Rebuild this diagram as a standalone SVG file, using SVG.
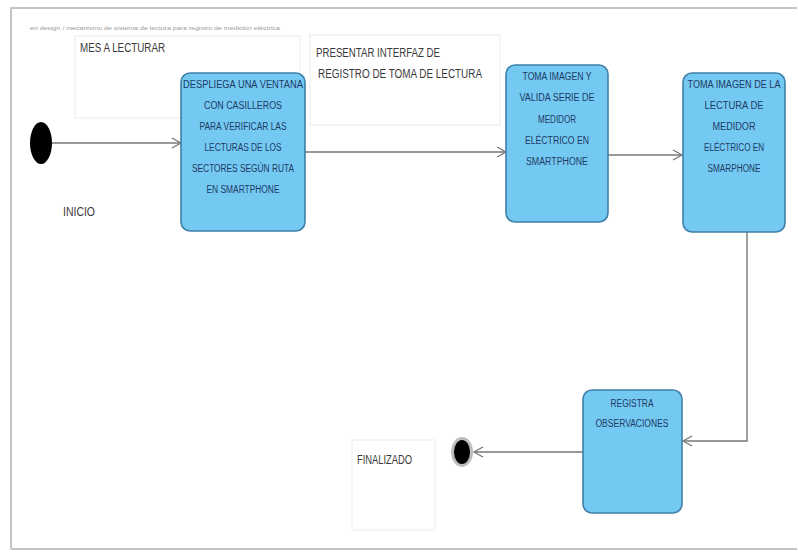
<svg xmlns="http://www.w3.org/2000/svg" width="798" height="553" viewBox="0 0 798 553">
<style>
.node rect{fill:#74c9f3;stroke:#3f7fa8;stroke-width:1.6}
.nt{font-family:"Liberation Sans",Arial,sans-serif;font-size:10px;fill:#1d3b63;text-anchor:middle}
.note{font-family:"Liberation Sans",Arial,sans-serif;font-size:12px;fill:#3a3a3a}
.nbox{fill:#fff;stroke:#ececec;stroke-width:1}
.conn path{fill:none;stroke:#777;stroke-width:1.4}
</style>
<defs>
<marker id="arr" markerWidth="12" markerHeight="12" refX="10" refY="6" orient="auto" markerUnits="userSpaceOnUse">
<path d="M1,1 L10,6 L1,11" fill="none" stroke="#777" stroke-width="1.3"/>
</marker>
</defs>
<rect x="0" y="0" width="798" height="553" fill="#fff"/>
<g id="frame" fill="none" stroke="#c4c4c4" stroke-width="2">
<path d="M11,549 L11,8 L797,8"/>
<path d="M11,549 L797,549"/>
</g>
<text x="30" y="30" font-family="Liberation Sans, Arial, sans-serif" font-size="4.5" fill="#9a9a9a" textLength="250" lengthAdjust="spacingAndGlyphs">en design / mecanismo de sistema de lectura para registro de medición eléctrica</text>
<g id="note-mes">
<rect class="nbox" x="75" y="36" width="225" height="82"/>
<text class="note" x="80" y="52" textLength="85" lengthAdjust="spacingAndGlyphs">MES A LECTURAR</text>
</g>
<g id="note-presentar">
<rect class="nbox" x="310" y="35" width="190" height="90"/>
<text class="note" x="316" y="57" textLength="124" lengthAdjust="spacingAndGlyphs">PRESENTAR INTERFAZ DE</text>
<text class="note" x="318" y="78" textLength="164" lengthAdjust="spacingAndGlyphs">REGISTRO DE TOMA DE LECTURA</text>
</g>
<g id="note-finalizado">
<rect class="nbox" x="352" y="440" width="83" height="90"/>
<text class="note" x="357" y="464" textLength="55" lengthAdjust="spacingAndGlyphs">FINALIZADO</text>
</g>
<g class="conn" id="connectors">
<path d="M52,143 L181,143" marker-end="url(#arr)"/>
<path d="M305,152 L506,152" marker-end="url(#arr)"/>
<path d="M608,155 L682,155" marker-end="url(#arr)"/>
<path d="M747,232 L747,441 L683,441" marker-end="url(#arr)"/>
<path d="M583,452 L474,452" marker-end="url(#arr)"/>
</g>
<g id="inicio">
<ellipse cx="41" cy="143" rx="11" ry="21" fill="#000"/>
<text class="note" x="63" y="216" textLength="32" lengthAdjust="spacingAndGlyphs">INICIO</text>
</g>
<g id="fin">
<ellipse cx="462" cy="452" rx="11" ry="15" fill="#bdbdbd"/>
<ellipse cx="462" cy="452" rx="8" ry="12" fill="#000"/>
</g>
<g class="node" id="despliega">
<rect x="181" y="73" width="124" height="158" rx="9"/>
<text class="nt" x="243" y="88" textLength="120" lengthAdjust="spacingAndGlyphs">DESPLIEGA UNA VENTANA</text>
<text class="nt" x="243" y="109" textLength="78" lengthAdjust="spacingAndGlyphs">CON CASILLEROS</text>
<text class="nt" x="243" y="130" textLength="87" lengthAdjust="spacingAndGlyphs">PARA VERIFICAR LAS</text>
<text class="nt" x="243" y="151" textLength="77" lengthAdjust="spacingAndGlyphs">LECTURAS DE LOS</text>
<text class="nt" x="243" y="172" textLength="102" lengthAdjust="spacingAndGlyphs">SECTORES SEGÚN RUTA</text>
<text class="nt" x="243" y="193" textLength="73" lengthAdjust="spacingAndGlyphs">EN SMARTPHONE</text>
</g>
<g class="node" id="valida">
<rect x="506" y="65" width="102" height="157" rx="9"/>
<text class="nt" x="557" y="80" textLength="69" lengthAdjust="spacingAndGlyphs">TOMA IMAGEN Y</text>
<text class="nt" x="557" y="101" textLength="75" lengthAdjust="spacingAndGlyphs">VALIDA SERIE DE</text>
<text class="nt" x="557" y="123" textLength="38" lengthAdjust="spacingAndGlyphs">MEDIDOR</text>
<text class="nt" x="557" y="144" textLength="64" lengthAdjust="spacingAndGlyphs">ELÉCTRICO EN</text>
<text class="nt" x="557" y="165" textLength="62" lengthAdjust="spacingAndGlyphs">SMARTPHONE</text>
</g>
<g class="node" id="toma-lectura">
<rect x="683" y="73" width="102" height="159" rx="9"/>
<text class="nt" x="734" y="88" textLength="93" lengthAdjust="spacingAndGlyphs">TOMA IMAGEN DE LA</text>
<text class="nt" x="734" y="109" textLength="59" lengthAdjust="spacingAndGlyphs">LECTURA DE</text>
<text class="nt" x="734" y="130" textLength="43" lengthAdjust="spacingAndGlyphs">MEDIDOR</text>
<text class="nt" x="734" y="151" textLength="60" lengthAdjust="spacingAndGlyphs">ELÉCTRICO EN</text>
<text class="nt" x="734" y="172" textLength="53" lengthAdjust="spacingAndGlyphs">SMARPHONE</text>
</g>
<g class="node" id="registra">
<rect x="583" y="390" width="99" height="123" rx="9"/>
<text class="nt" x="632" y="407" textLength="43" lengthAdjust="spacingAndGlyphs">REGISTRA</text>
<text class="nt" x="632" y="427" textLength="73" lengthAdjust="spacingAndGlyphs">OBSERVACIONES</text>
</g>
</svg>
